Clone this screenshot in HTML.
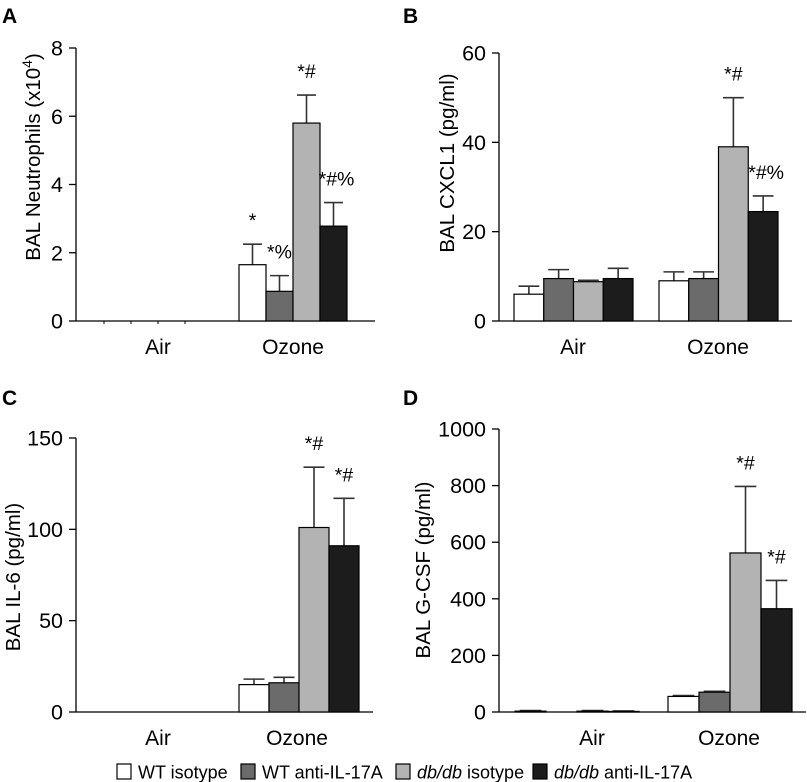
<!DOCTYPE html>
<html><head><meta charset="utf-8"><style>
body{margin:0;background:#fff;}
svg{display:block;font-family:"Liberation Sans",Arial,sans-serif;}
</style></head><body>
<svg id="fig" width="807" height="782" viewBox="0 0 807 782" xmlns="http://www.w3.org/2000/svg"></svg>
<script>
const groups = ["Air", "Ozone"];
const seriesNames = ["WT isotype", "WT anti-IL-17A", "db/db isotype", "db/db anti-IL-17A"];
const fills = ["#ffffff", "#6b6b6b", "#b3b3b3", "#1c1c1c"];

const aVals = [[0,0,0,0],[1.65,0.87,5.8,2.78]];
const aErr = [[0,0,0,0],[2.25,1.33,6.62,3.47]];
const aTicks = [0,2,4,6,8];
const aSig = [["","","",""],["*","*%","*#","*#%"]];

const bVals = [[6,9.5,8.8,9.5],[9,9.5,39,24.5]];
const bErr = [[7.8,11.5,9.1,11.8],[11,11,50,28]];
const bTicks = [0,20,40,60];
const bSig = [["","","",""],["","","*#","*#%"]];

const cVals = [[0,0,0,0],[15,16,101,91]];
const cErr = [[0,0,0,0],[18,19,134,117]];
const cTicks = [0,50,100,150];
const cSig = [["","","",""],["","","*#","*#"]];

const dVals = [[3,0,3,2],[55,70,562,365]];
const dErr = [[5,0,5,4],[58,73,797,465]];
const dTicks = [0,200,400,600,800,1000];
const dSig = [["","","",""],["","","*#","*#"]];

const NS = "http://www.w3.org/2000/svg";
const svg = document.getElementById("fig");
function mk(tag, attrs, parent, text){
  const e = document.createElementNS(NS, tag);
  for (const k in attrs) e.setAttribute(k, attrs[k]);
  if (text !== undefined) e.textContent = text;
  (parent || svg).appendChild(e);
  return e;
}

function panel(p){
  const g = mk("g", {});
  
  
  const ymax = p.ticks[p.ticks.length-1];
  const y = v => p.y0 - (v / ymax) * (p.y0 - p.yTop);
  const t = mk("text", {x:p.lx, y:p.ly, "font-size":21, "font-weight":"bold"}, g, p.letter);
  
  
  const ya = mk("line", {x1:p.ax, y1:p.yTop, x2:p.ax, y2:p.y0, stroke:"#000", "stroke-width":1.3}, g);
  
  
  const xa = mk("line", {x1:p.ax, y1:p.y0, x2:p.axEnd, y2:p.y0, stroke:"#000", "stroke-width":1.3}, g);
  
  
  p.ticks.forEach(tv => {
    mk("line", {x1:p.ax-7, y1:y(tv), x2:p.ax, y2:y(tv), stroke:"#000", "stroke-width":1.3}, g);
    const tl = mk("text", {x:p.ax-13, y:y(tv)+7.5, "font-size":21.5, "text-anchor":"end"}, g, tv);
    
    
  });
  const title = mk("text", {transform:`translate(${p.tx},${p.ty}) rotate(-90)`, "font-size":20.5, "text-anchor":"middle"}, g);
  
  
  title.textContent = p.title;
  if (p.sup){ mk("tspan", {"font-size":14, dy:-8}, title, p.sup); mk("tspan", {dy:8}, title, ")"); }
  groups.forEach((gn, gi) => {
    const gl = mk("text", {x:p.labelX[gi], y:p.y0+33, "font-size":21, "text-anchor":"middle"}, g, gn);
    
    
    for (let s = 0; s < 4; s++){
      const x0 = p.gStart[gi] + s * p.bw;
      const cx = x0 + p.bw/2;
      const v = p.vals[gi][s], e = p.err[gi][s];
      if (e > v){
        mk("line", {x1:cx, y1:y(v), x2:cx, y2:y(e), stroke:"#333", "stroke-width":1.6}, g);
        mk("line", {x1:cx-p.bw*0.35, y1:y(e), x2:cx+p.bw*0.35, y2:y(e), stroke:"#333", "stroke-width":1.6}, g);
      }
      if (v > 0){
        const r = mk("rect", {x:x0, y:y(v), width:p.bw, height:p.y0-y(v), fill:fills[s], stroke:"#000", "stroke-width":1.2}, g);
        
        
      } else if (p.zeroTicks){
        mk("line", {x1:x0, y1:p.y0, x2:x0, y2:p.y0+3, stroke:"#000", "stroke-width":1}, g);
      }
      const sg = p.sig[gi][s];
      if (sg){
        const top = Math.max(v, e);
        const st = mk("text", {x:cx + (sg.length>2?3:0), y:y(top)-17, "font-size":19.5, "text-anchor":"middle"}, g, sg);
        
        
      }
    }
  });
}

panel({letter:"A", lx:2, ly:23, ax:76, axEnd:375, y0:321, yTop:48, ticks:aTicks, vals:aVals, err:aErr, sig:aSig,
  gStart:[104,239], bw:27, labelX:[158,293], tx:40, ty:157, title:"BAL Neutrophils (x10", sup:"4", zeroTicks:true});
panel({letter:"B", lx:403, ly:23, ax:499, axEnd:792, y0:321, yTop:53, ticks:bTicks, vals:bVals, err:bErr, sig:bSig,
  gStart:[514,659], bw:29.75, labelX:[573,718], tx:454, ty:163, title:"BAL CXCL1 (pg/ml)"});
panel({letter:"C", lx:2, ly:405, ax:76, axEnd:373, y0:712, yTop:438, ticks:cTicks, vals:cVals, err:cErr, sig:cSig,
  gStart:[104,239], bw:30, labelX:[158,297], tx:20, ty:577, title:"BAL IL-6 (pg/ml)"});
panel({letter:"D", lx:403, ly:405, ax:499, axEnd:806, y0:712, yTop:429, ticks:dTicks, vals:dVals, err:dErr, sig:dSig,
  gStart:[515,668], bw:31, labelX:[592,729], tx:430, ty:570, title:"BAL G-CSF (pg/ml)"});

const leg = mk("g", {});


const legBox = [117, 241, 396, 533];
const legParts = [["","WT isotype"],["","WT anti-IL-17A"],["db/db"," isotype"],["db/db"," anti-IL-17A"]];
legBox.forEach((bx, i) => {
  const en = mk("g", {}, leg);
  
  
  mk("rect", {x:bx, y:764, width:14, height:15, fill:fills[i], stroke:"#000", "stroke-width":1.2}, en);
  const tx = mk("text", {x:bx+21, y:778.5, "font-size":18}, en);
  if (legParts[i][0]) mk("tspan", {"font-style":"italic"}, tx, legParts[i][0]);
  mk("tspan", {}, tx, legParts[i][1]);
});
</script>
</body></html>
